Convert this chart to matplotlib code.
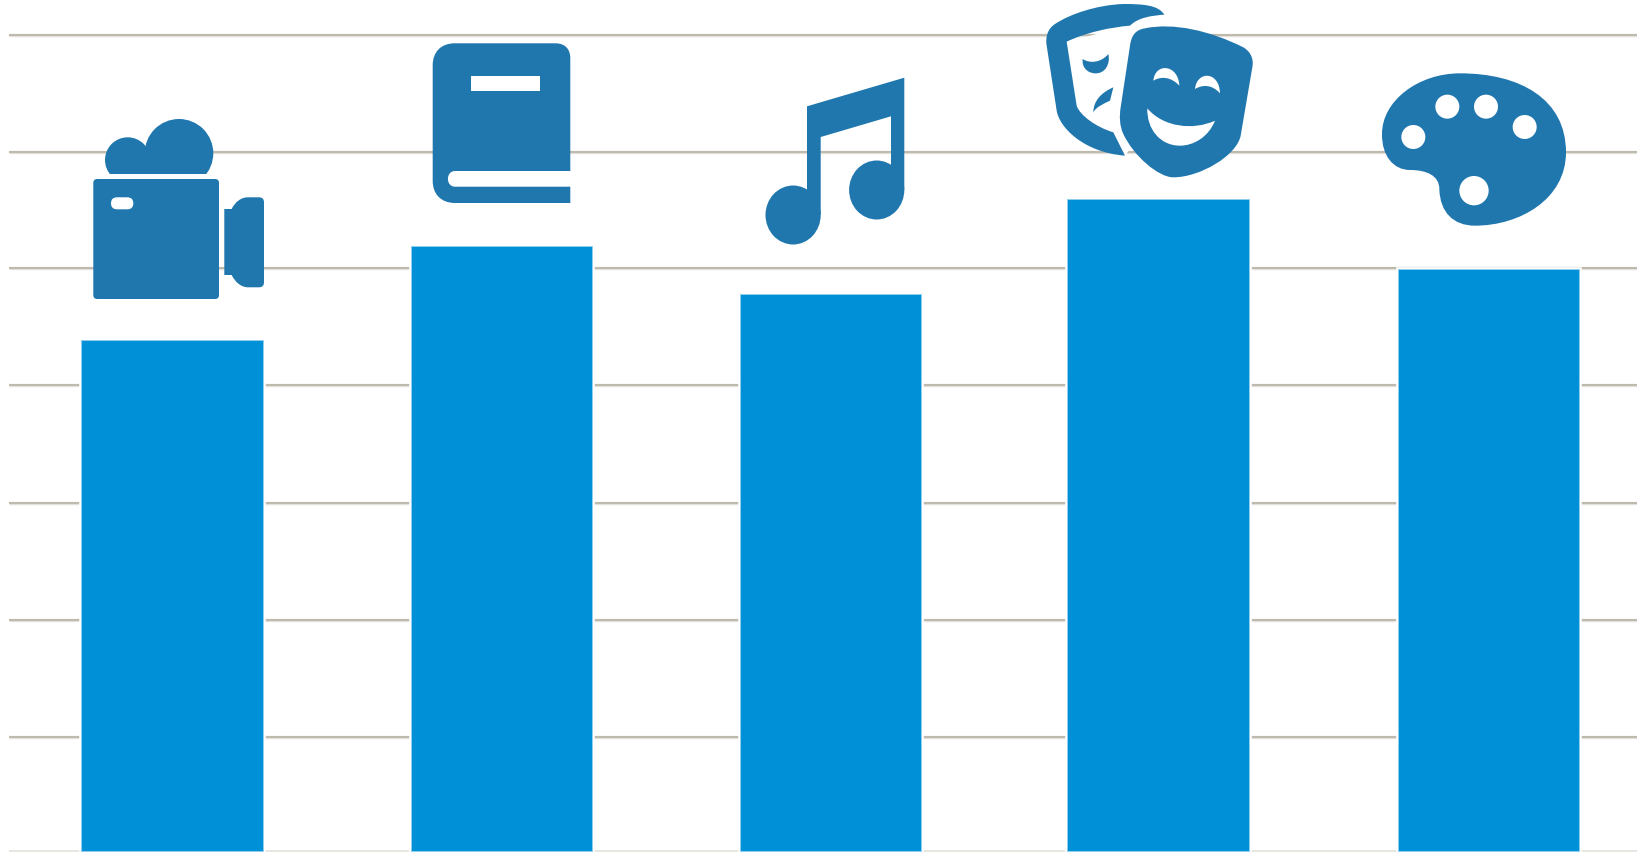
import re
import numpy as np
import matplotlib
matplotlib.use("Agg")
import matplotlib.pyplot as plt
import matplotlib.patheffects as pe
from matplotlib.path import Path
from matplotlib.patches import PathPatch, Circle, Ellipse, Rectangle

# --- data -------------------------------------------------------------
categories = ["Film", "Books", "Music", "Theatre", "Art"]
values = [4.372, 5.179, 4.772, 5.585, 4.987]
grid_levels = [0, 0.982, 1.98, 2.985, 4.0, 5.0, 6.0, 7.0]
slot_offsets = [0, 0, -0.001, -0.006, -0.002]

BAR = "#0090D7"
ICON = "#2077AE"
GRID = "#BEBAAE"

fig = plt.figure(figsize=(16.37, 8.53), dpi=100, facecolor="white")
ax = fig.add_axes([0, 0, 1, 1])
ax.set_xlim(-0.5244, 4.4467)
ax.set_ylim(-0.00858, 7.309)
ax.axis("off")

x = np.arange(len(categories)) + np.array(slot_offsets)
ax.hlines(grid_levels[1:], -0.4956, 4.4467, color=GRID, lw=1.4, zorder=1,
          path_effects=[pe.withStroke(linewidth=2.4, foreground="#E3E1DB"), pe.Normal()])
ax.hlines(grid_levels[0], -0.4956, 4.4467, color="#E4E2DC", lw=1.2, zorder=1)
bars = ax.bar(x, values, width=0.548, color=BAR, zorder=2, linewidth=0)
for b in bars:
    b.set_path_effects([pe.withStroke(linewidth=4.0, foreground="white"),
                        pe.withStroke(linewidth=1.4, foreground="#8CCDEE"),
                        pe.Normal()])

# --- icon layer in image pixels ---------------------------------------
ov = fig.add_axes([0, 0, 1, 1])
ov.set_xlim(0, 1637)
ov.set_ylim(853, 0)
ov.axis("off")
ov.patch.set_alpha(0)


def svg(d, ox=0.0, oy=0.0, s=1.0):
    toks = re.findall(r"[MLCQZ]|-?\d+\.?\d*", d)
    verts, codes = [], []
    i = 0
    n_pts = {"M": 1, "L": 1, "Q": 2, "C": 3}
    kind = {"M": Path.MOVETO, "L": Path.LINETO, "Q": Path.CURVE3, "C": Path.CURVE4}
    cmd = None
    while i < len(toks):
        t = toks[i]
        if t == "Z":
            verts.append((0, 0))
            codes.append(Path.CLOSEPOLY)
            i += 1
            continue
        if t in n_pts:
            cmd = t
            i += 1
        for _ in range(n_pts[cmd]):
            verts.append((ox + s * float(toks[i]), oy + s * float(toks[i + 1])))
            codes.append(kind[cmd])
            i += 2
    return Path(verts, codes)


def shape(d, ox=0.0, oy=0.0, s=1.0, fc=ICON, **kw):
    p = PathPatch(svg(d, ox, oy, s), facecolor=fc, edgecolor="none", lw=0, **kw)
    ov.add_patch(p)
    return p


# camera
clip = Rectangle((90, 100), 140, 75, transform=ov.transData)
for cx, cy, r in [(127.7, 161, 22.7), (179, 154.3, 34.3)]:
    c = Circle((cx, cy), r, fc=ICON, ec="none")
    ov.add_patch(c)
    c.set_clip_path(clip)
ov.add_patch(Rectangle((125, 160), 60, 15, fc=ICON, ec="none"))
shape("M97.3 180 L215 180 Q219 180 219 184 L219 296 Q219 300 215 300 L97.3 300 Q93.3 300 93.3 296 L93.3 184 Q93.3 180 97.3 180 Z")
shape("M117 198.3 L127.3 198.3 Q133.3 198.3 133.3 204.3 Q133.3 210.3 127.3 210.3 L117 210.3 Q111 210.3 111 204.3 Q111 198.3 117 198.3 Z", fc="white")
shape("M224.3 210 L231.7 210 C235 203 241 198.3 248 198.3 L259 198.3 Q264 198.3 264 203.3 L264 283.3 Q264 288.3 259 288.3 L248 288.3 C241 288.3 235 283 231.7 276 L224.3 276 Z")

# book
shape("M454.7 44.3 L555.3 44.3 C565 44.3 570.3 50 570.3 59.3 L570.3 172 L455 172 C445.5 172 445.5 187.7 455 187.7 L570.3 187.7 L570.3 204 L455 204 C441 204 432.7 195 432.7 182 L432.7 66.3 C432.7 53 441 44.3 454.7 44.3 Z")
shape("M471 76.7 L539.7 76.7 L539.7 92.3 L471 92.3 Z", fc="white")

# music note
shape("M807 107.3 L904.3 78.7 L904.3 191 L891 191 L891 117.3 L820.7 138 L820.7 216 L807 216 Z")
ov.add_patch(Ellipse((876.7, 191), 55.2, 59, fc=ICON, ec="none"))
ov.add_patch(Ellipse((793.1, 216), 55.2, 59, fc=ICON, ec="none"))

# masks (zoom coordinates, third scale)
MX, MY, S = 1030, 0, 1 / 3
shape("M110 128 L300 80 L340 80 L300 450 L285 470 L250 400 L140 320 Z", MX, MY, S, fc="white")
shape("M403 47 C385 18 340 15 280 15 C200 18 120 45 75 75 C52 90 46 115 50 140 L80 335 C88 385 160 460 285 470 L250 400 C200 385 150 350 140 320 L110 128 C170 100 240 85 300 80 C325 55 365 50 403 47 Z", MX, MY, S)
shape("M158 180 C180 195 215 190 235 165 C242 195 225 225 195 223 C172 222 155 205 158 180 Z", MX, MY, S)
shape("M250 265 L240 305 C220 315 200 322 190 340 C190 305 215 280 250 265 Z", MX, MY, S)
shape("M345 88 C430 70 540 95 640 145 C662 158 672 180 667 205 L632 410 C620 470 510 535 430 535 C385 535 310 470 280 405 C268 380 268 350 272 325 L300 140 C304 108 318 92 345 88 Z", MX, MY, S)
shape("M370 245 C375 190 445 195 448 260 C425 235 395 230 370 245 Z", MX, MY, S, fc="white")
shape("M495 270 C500 215 568 215 570 283 C548 258 520 255 495 270 Z", MX, MY, S, fc="white")
shape("M352 328 C400 385 490 395 555 365 C535 415 490 440 450 440 C390 440 350 390 352 328 Z", MX, MY, S, fc="white")

# palette
PX, PY = 1360, 60
shape("M300 43 C480 43 618 120 618 280 C618 420 480 500 345 500 C280 500 240 460 238 390 C238 350 200 333 150 333 C100 333 65 290 66 225 C66 125 175 43 300 43 Z", PX, PY, S)
for hx, hy, r in [(160, 234, 36), (262, 143, 36), (378, 143, 36), (494, 204, 36), (342, 395, 44)]:
    ov.add_patch(Circle((PX + hx * S, PY + hy * S), r * S, fc="white", ec="none"))

fig.savefig("out.png", dpi=100, facecolor="white")
